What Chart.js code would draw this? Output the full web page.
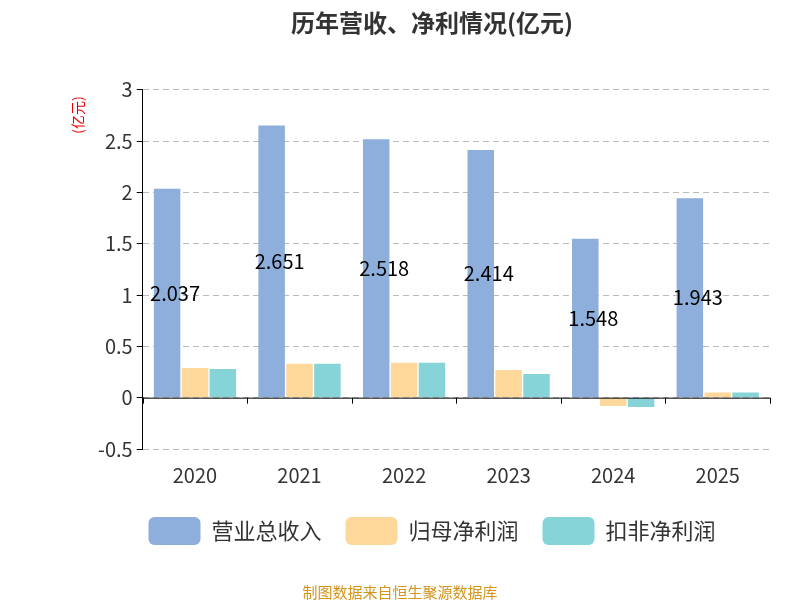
<!DOCTYPE html>
<html><head><meta charset="utf-8">
<script src="https://cdn.jsdelivr.net/npm/chart.js@4"></script>
<style>body{margin:0;background:#fff}#w{width:800px;height:600px;position:relative}</style>
</head><body><div id="w"><canvas id="c" width="800" height="600"></canvas></div>
<script>
const categories=['2020','2021','2022','2023','2024','2025'];
const revenue=[2.037,2.651,2.518,2.414,1.548,1.943];
const netProfit=[0.29,0.33,0.34,0.27,-0.08,0.05];
const deductedProfit=[0.28,0.33,0.34,0.23,-0.09,0.05];
const yTicks=[-0.5,0,0.5,1,1.5,2,2.5,3];
const F='"Noto Sans CJK SC","Noto Sans",sans-serif';
const extras={id:'extras',afterDatasetsDraw(ch){
 const ctx=ch.ctx,x=ch.scales.x,y=ch.scales.y,ca=ch.chartArea;
 ctx.save();
 const y0=y.getPixelForValue(0);
 ctx.strokeStyle='#000';ctx.lineWidth=1;
 ctx.beginPath();ctx.moveTo(ca.left,y0+0.5);ctx.lineTo(ca.right,y0+0.5);ctx.stroke();
 const w=(ca.right-ca.left)/categories.length;
 for(let i=0;i<=categories.length;i++){const px=Math.round(ca.left+i*w)+0.5;ctx.beginPath();ctx.moveTo(px,y0);ctx.lineTo(px,y0+6);ctx.stroke();}
 ctx.font='20px '+F;ctx.fillStyle='#000';ctx.textAlign='center';ctx.textBaseline='middle';
 ch.getDatasetMeta(0).data.forEach((b,i)=>{ctx.fillText(revenue[i].toFixed(3),b.x+8,(b.y+b.base)/2);});
 ctx.translate(78,115);ctx.rotate(-Math.PI/2);ctx.fillStyle='#e00';ctx.font='14px '+F;ctx.fillText('(亿元)',0,0);
 ctx.restore();
 ctx.save();ctx.fillStyle='#d4951c';ctx.font='15px '+F;ctx.textAlign='center';ctx.fillText('制图数据来自恒生聚源数据库',400,592);ctx.restore();
}};
new Chart(document.getElementById('c'),{type:'bar',
 data:{labels:categories,datasets:[
  {label:'营业总收入',data:revenue,backgroundColor:'#8eaedb'},
  {label:'归母净利润',data:netProfit,backgroundColor:'#fdd89a'},
  {label:'扣非净利润',data:deductedProfit,backgroundColor:'#86d4d8'}]},
 options:{responsive:false,animation:false,
  layout:{padding:{left:94,right:30,top:0,bottom:45}},
  datasets:{bar:{categoryPercentage:0.8,barPercentage:0.95}},
  plugins:{title:{display:true,text:'历年营收、净利情况(亿元)',font:{size:24,weight:'bold',family:F},color:'#333',padding:{top:8,bottom:53}},
   legend:{position:'bottom',labels:{font:{size:22,family:F},color:'#333',boxWidth:52,boxHeight:28,useBorderRadius:true,borderRadius:6,padding:24}},
   tooltip:{enabled:false}},
  scales:{x:{grid:{display:false},border:{display:false},ticks:{font:{size:20,family:F},color:'#333',padding:6}},
   y:{min:-0.5,max:3,afterBuildTicks:a=>{a.ticks=yTicks.map(v=>({value:v}));},
    grid:{color:'#bbb',drawTicks:true,tickLength:6,tickColor:'#000'},
    border:{color:'#000',dash:[6,4],display:true},
    ticks:{font:{size:20,family:F},color:'#333',padding:4,callback:v=>String(v)}}}},
 plugins:[extras]});
</script></body></html>
